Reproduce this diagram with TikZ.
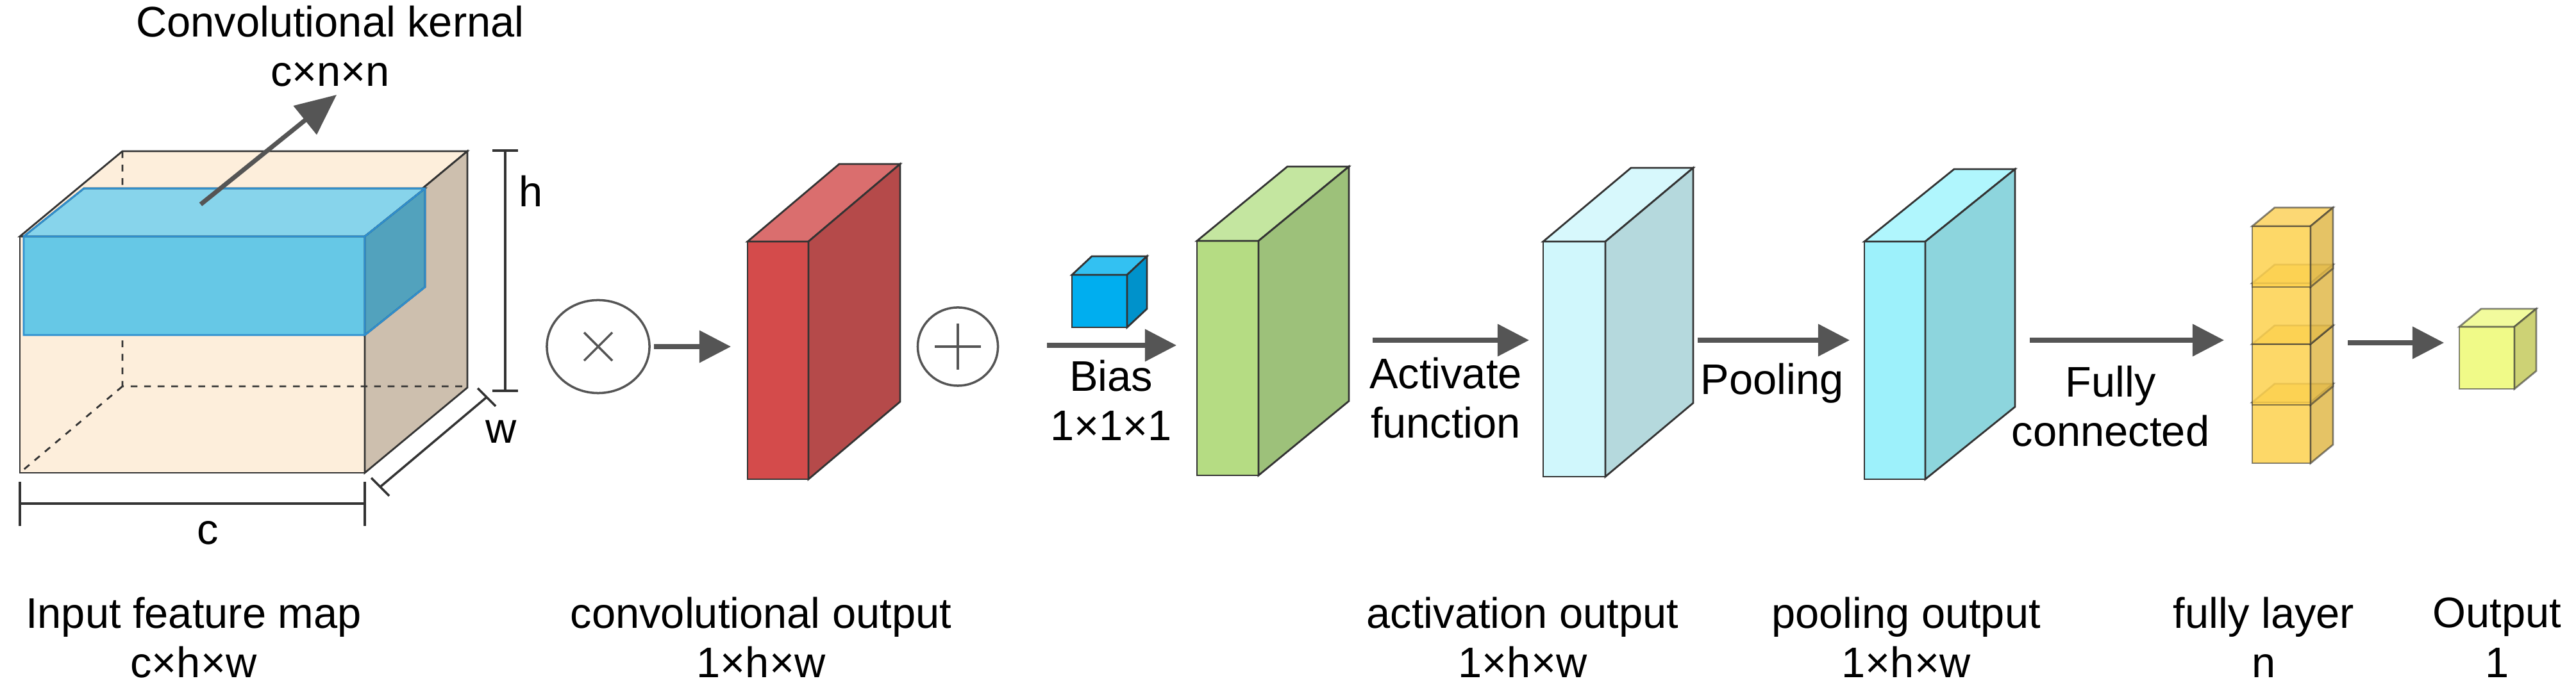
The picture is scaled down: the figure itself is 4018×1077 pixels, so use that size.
\documentclass[tikz,border=0pt]{standalone}
\usepackage{fontspec}
\setmainfont{Liberation Sans}
\usetikzlibrary{arrows.meta,shapes.geometric}
\definecolor{ink}{HTML}{333333}
\definecolor{arr}{HTML}{555555}
\definecolor{inF}{HTML}{FDEEDB}\definecolor{inS}{HTML}{CDBFAE}
\definecolor{kF}{HTML}{66C8E6}\definecolor{kT}{HTML}{87D4EB}\definecolor{kS}{HTML}{52A2BD}\definecolor{kE}{HTML}{2E8FCF}
\definecolor{rF}{HTML}{D44B4B}\definecolor{rT}{HTML}{DA6E6E}\definecolor{rS}{HTML}{B54A4A}
\definecolor{bF}{HTML}{00AEEF}\definecolor{bT}{HTML}{33C1F2}\definecolor{bS}{HTML}{0092CB}
\definecolor{gF}{HTML}{B5DC83}\definecolor{gT}{HTML}{C4E6A0}\definecolor{gS}{HTML}{9DC17A}
\definecolor{lF}{HTML}{D0F7FC}\definecolor{lT}{HTML}{D7F8FC}\definecolor{lS}{HTML}{B5D9DD}
\definecolor{cF}{HTML}{9DF1FB}\definecolor{cT}{HTML}{B0F6FD}\definecolor{cS}{HTML}{8DD5DD}
\definecolor{yF}{HTML}{FDD14E}\definecolor{yT}{HTML}{FCD15C}\definecolor{yS}{HTML}{E0B84A}
\definecolor{oF}{HTML}{F0FA88}\definecolor{oT}{HTML}{F2FB9D}\definecolor{oS}{HTML}{CDD275}
\newcommand\myslab[9]{% x1 y1 x2 y2 dx dy front top side
 \filldraw[draw=ink,line width=0.8pt,fill=#7] (#1,#2) rectangle (#3,#4);
 \filldraw[draw=ink,line width=0.8pt,fill=#8] (#1,#2)--({#1+#5},{#2-#6})--({#3+#5},{#2-#6})--(#3,#2)--cycle;
 \filldraw[draw=ink,line width=0.8pt,fill=#9] (#3,#2)--({#3+#5},{#2-#6})--({#3+#5},{#4-#6})--(#3,#4)--cycle;}
\begin{document}
\begin{tikzpicture}[x=0.01cm,y=-0.01cm,
  lab/.style={font=\fontsize{19}{22}\selectfont,align=center,text=black},
  arrw/.style={draw=arr,line width=2pt,-{Triangle[length=14pt,width=14pt]}},
  dim/.style={draw=ink,line width=1pt}]
\useasboundingbox (0,0) rectangle (4018,1077);
% input feature map
\myslab{31}{369}{569}{738}{160}{133}{inF}{inF}{inS}
\draw[ink,dashed,line width=0.8pt] (191,236)--(191,603)--(729,603) (191,603)--(31,738);
\myslab{37}{369}{569}{523}{94}{75}{kF}{kT}{kS}
\draw[draw=kE,line width=0.8pt] (37,369) rectangle (569,523) (37,369)--(131,294)--(663,294)--(663,448)--(569,523) (569,369)--(663,294);
\coordinate (ks) at (313,319); \coordinate (ke) at (525,148);
\draw[arrw,-{Triangle[length=18pt,width=16pt]}] (ks)--(ke);
\node[lab] (kern) at (515,72) {Convolutional kernal\\c×n×n};
% dims
\draw[dim] (788,235)--(788,610) (768,235)--(808,235) (768,610)--(808,610);
\node[lab] (h) at (828,298) {h};
\draw[dim] (759,620)--(593,760) (745,606)--(773,634) (579,746)--(607,774);
\node[lab] (w) at (782,674) {w};
\draw[dim] (31,786)--(569,786) (31,752)--(31,821) (569,752)--(569,821);
\node[lab] (c) at (324,832) {c};
% operators
\node[draw=arr,line width=1pt,ellipse,minimum width=1.6cm,minimum height=1.45cm,inner sep=0] (mul) at (933,541) {};
\draw[arr,line width=1pt] (911,519)--(955,563) (955,519)--(911,563);
\node[draw=arr,line width=1pt,ellipse,minimum width=1.25cm,minimum height=1.22cm,inner sep=0] (add) at (1494,541) {};
\draw[arr,line width=1pt] (1494,505)--(1494,577) (1458,541)--(1530,541);
% red
\myslab{1166}{377}{1261}{748}{143}{121}{rF}{rT}{rS}
\coordinate (m1) at (1020,541); \coordinate (r) at (1140,541);
\draw[arrw] (m1)--(r);
% bias
\myslab{1672}{429}{1758}{511}{31}{29}{bF}{bT}{bS}
\coordinate (b1) at (1633,539); \coordinate (b2) at (1835,539);
\draw[arrw] (b1)--(b2);
\node[lab] (bias) at (1733,625) {Bias\\1×1×1};
% green
\myslab{1867}{376}{1963}{742}{141}{116}{gF}{gT}{gS}
\coordinate (g1) at (2141,531); \coordinate (g2) at (2385,531);
\draw[arrw] (g1)--(g2);
\node[lab] (act) at (2255,621) {Activate\\function};
% light cyan
\myslab{2407}{377}{2504}{744}{137}{115}{lF}{lT}{lS}
\coordinate (p1) at (2648,531); \coordinate (p2) at (2885,531);
\draw[arrw] (p1)--(p2);
\node[lab] (pool) at (2764,598) {Pooling};
% cyan
\myslab{2908}{377}{3003}{748}{140}{113}{cF}{cT}{cS}
\coordinate (f1) at (3166,531); \coordinate (f2) at (3469,531);
\draw[arrw] (f1)--(f2);
\node[lab] (fc) at (3292,634) {Fully\\connected};
% yellow column
\begin{scope}[fill opacity=0.85,draw opacity=0.6]
\foreach \t in {628,537,442,353}{
  \myslab{3513}{\t}{3604}{\t+95}{35}{29}{yF}{yT}{yS}}
\end{scope}
\coordinate (o1) at (3662,535); \coordinate (o2) at (3812,535);
\draw[arrw] (o1)--(o2);
% output cube
\begin{scope}[draw opacity=0.6]
\myslab{3836}{510}{3922}{607}{34}{28}{oF}{oT}{oS}
\end{scope}
% bottom labels
\node[lab] (l1) at (302,995) {Input feature map\\c×h×w};
\node[lab] (l2) at (1187,995) {convolutional output\\1×h×w};
\node[lab] (l3) at (2375,995) {activation output\\1×h×w};
\node[lab] (l4) at (2973,995) {pooling output\\1×h×w};
\node[lab] (l5) at (3531,995) {fully layer\\n};
\node[lab] (l6) at (3895,995) {Output\\1};
\end{tikzpicture}
\end{document}
